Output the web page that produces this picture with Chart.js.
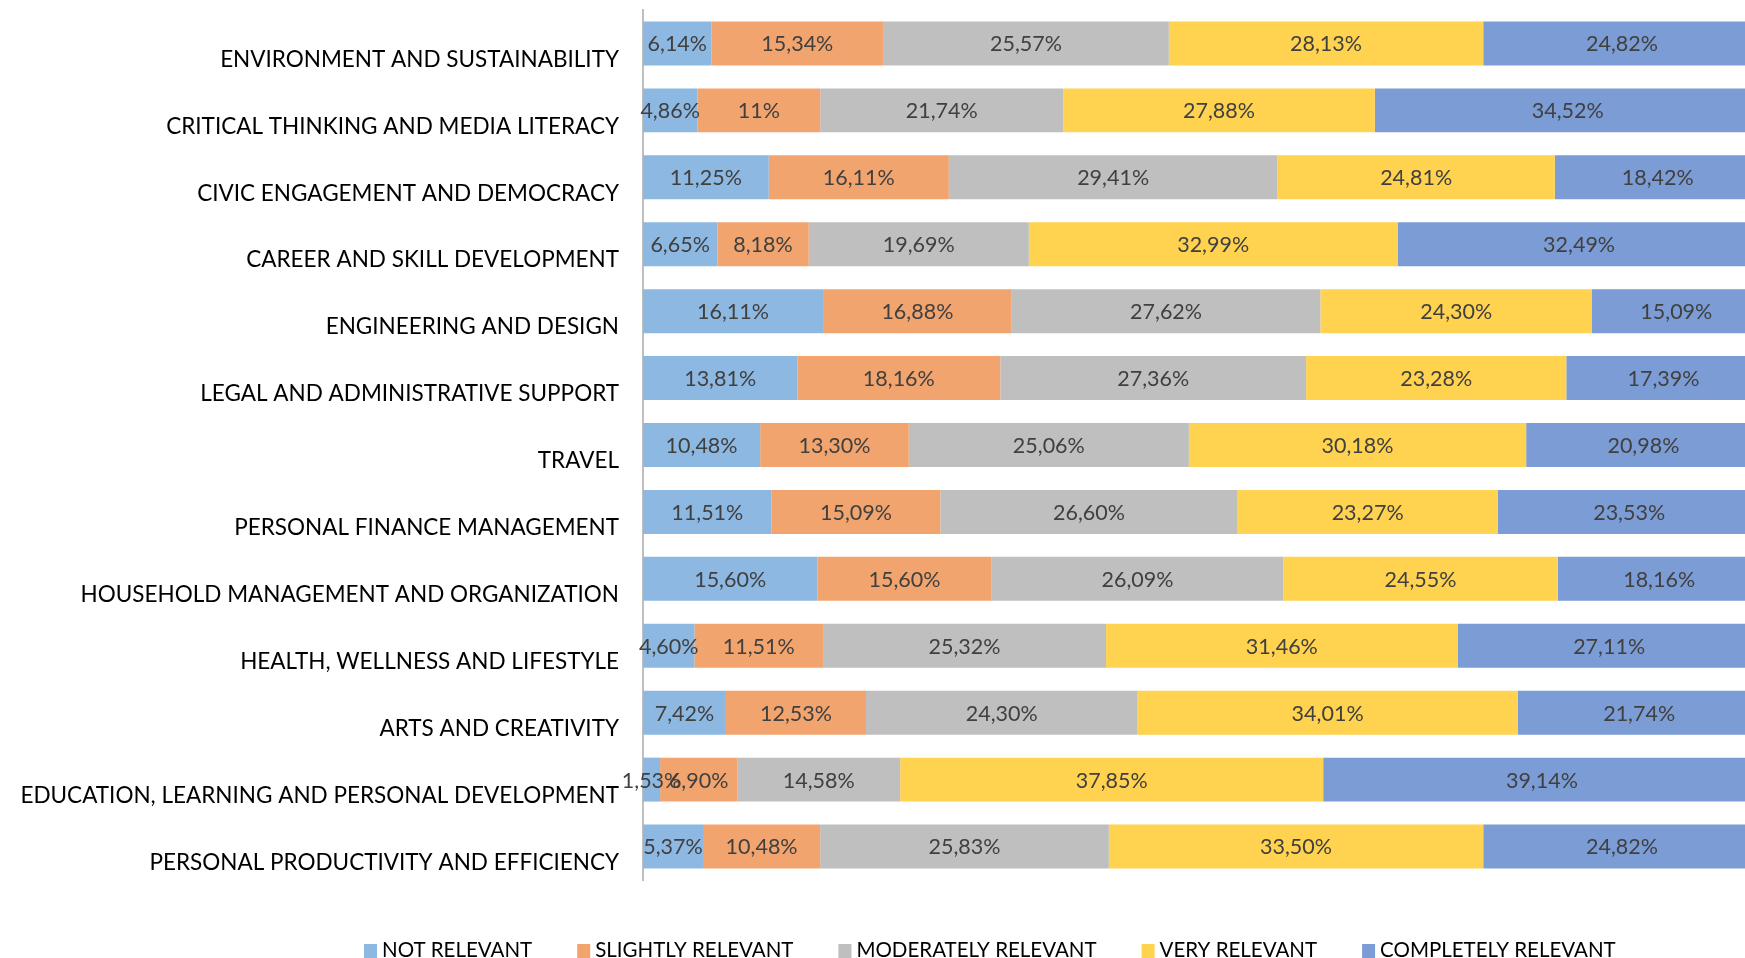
<!DOCTYPE html>
<html>
<head>
<meta charset="utf-8">
<script src="https://cdn.jsdelivr.net/npm/chart.js@4.4.1/dist/chart.umd.min.js"></script>
<style>
  html, body { margin: 0; padding: 0; background: #fff; overflow: hidden; }
  #wrap { position: relative; width: 1745px; height: 958px; }
</style>
</head>
<body>
<div id="wrap"><canvas id="c" width="1745" height="958"></canvas></div>
<script>
const categories = [
  "ENVIRONMENT AND SUSTAINABILITY",
  "CRITICAL THINKING AND MEDIA LITERACY",
  "CIVIC ENGAGEMENT AND DEMOCRACY",
  "CAREER AND SKILL DEVELOPMENT",
  "ENGINEERING AND DESIGN",
  "LEGAL AND ADMINISTRATIVE SUPPORT",
  "TRAVEL",
  "PERSONAL FINANCE MANAGEMENT",
  "HOUSEHOLD MANAGEMENT AND ORGANIZATION",
  "HEALTH, WELLNESS AND LIFESTYLE",
  "ARTS AND CREATIVITY",
  "EDUCATION, LEARNING AND PERSONAL DEVELOPMENT",
  "PERSONAL PRODUCTIVITY AND EFFICIENCY"
];
const seriesNames = ["NOT RELEVANT", "SLIGHTLY RELEVANT", "MODERATELY RELEVANT", "VERY RELEVANT", "COMPLETELY RELEVANT"];
const notRelevant        = [6.14, 4.86, 11.25, 6.65, 16.11, 13.81, 10.48, 11.51, 15.60, 4.60, 7.42, 1.53, 5.37];
const slightlyRelevant   = [15.34, 11, 16.11, 8.18, 16.88, 18.16, 13.30, 15.09, 15.60, 11.51, 12.53, 6.90, 10.48];
const moderatelyRelevant = [25.57, 21.74, 29.41, 19.69, 27.62, 27.36, 25.06, 26.60, 26.09, 25.32, 24.30, 14.58, 25.83];
const veryRelevant       = [28.13, 27.88, 24.81, 32.99, 24.30, 23.28, 30.18, 23.27, 24.55, 31.46, 34.01, 37.85, 33.50];
const completelyRelevant = [24.82, 34.52, 18.42, 32.49, 15.09, 17.39, 20.98, 23.53, 18.16, 27.11, 21.74, 39.14, 24.82];

const colors = ["#8DB8E2", "#F1A46E", "#BFBFBF", "#FFD24F", "#7B9CD5"];
const FONT = "Lato";

function fmt(v) {
  if (Number.isInteger(v)) return v + "%";
  return v.toFixed(2).replace(".", ",") + "%";
}

const allSeries = [notRelevant, slightlyRelevant, moderatelyRelevant, veryRelevant, completelyRelevant];

const labelPlugin = {
  id: "segLabels",
  afterDatasetsDraw(chart) {
    const ctx = chart.ctx;
    const xs = chart.scales.x;
    ctx.save();
    ctx.font = "21.5px " + FONT;
    ctx.fillStyle = "#404040";
    ctx.textAlign = "center";
    ctx.textBaseline = "middle";
    chart.data.datasets.forEach((ds, di) => {
      const meta = chart.getDatasetMeta(di);
      meta.data.forEach((el, i) => {
        let start = 0;
        for (let k = 0; k < di; k++) start += chart.data.datasets[k].data[i];
        const end = start + ds.data[i];
        const cx = (xs.getPixelForValue(start) + xs.getPixelForValue(end)) / 2;
        ctx.fillText(fmt(ds.data[i]), cx, el.y + 1);
      });
    });
    ctx.restore();
  }
};

const legendPlugin = {
  id: "bottomLegend",
  afterDraw(chart) {
    const ctx = chart.ctx;
    ctx.save();
    ctx.font = "20.5px " + FONT;
    ctx.textBaseline = "alphabetic";
    ctx.textAlign = "left";
    let x = 364;
    const gap = 45;
    chart.data.datasets.forEach((ds) => {
      ctx.fillStyle = ds.backgroundColor;
      ctx.fillRect(x, 944, 13, 14);
      ctx.fillStyle = "#000";
      ctx.fillText(ds.label, x + 18, 957);
      x += 18 + ctx.measureText(ds.label).width + gap;
    });
    ctx.restore();
  }
};

new Chart(document.getElementById("c"), {
  type: "bar",
  data: {
    labels: categories,
    datasets: seriesNames.map((n, i) => ({
      label: n,
      data: allSeries[i],
      backgroundColor: colors[i],
      borderWidth: 0,
      barPercentage: 0.657,
      categoryPercentage: 1.0
    }))
  },
  options: {
    indexAxis: "y",
    responsive: false,
    animation: false,
    maintainAspectRatio: false,
    layout: { padding: { top: 10, bottom: 78, left: 0, right: 0 } },
    plugins: { legend: { display: false }, tooltip: { enabled: false } },
    scales: {
      x: { stacked: true, min: 0, max: 98.6, display: false },
      y: {
        stacked: true,
        grid: { display: false, drawTicks: false },
        border: { display: true, color: "#BFBFBF", width: 2 },
        ticks: { color: "#000", font: { family: FONT, size: 22.5 }, padding: 24, labelOffset: 16 },
        afterFit(s) { s.width = 643; s.paddingTop = 0; s.paddingBottom = 0; }
      }
    }
  },
  plugins: [labelPlugin, legendPlugin]
});
</script>
</body>
</html>
